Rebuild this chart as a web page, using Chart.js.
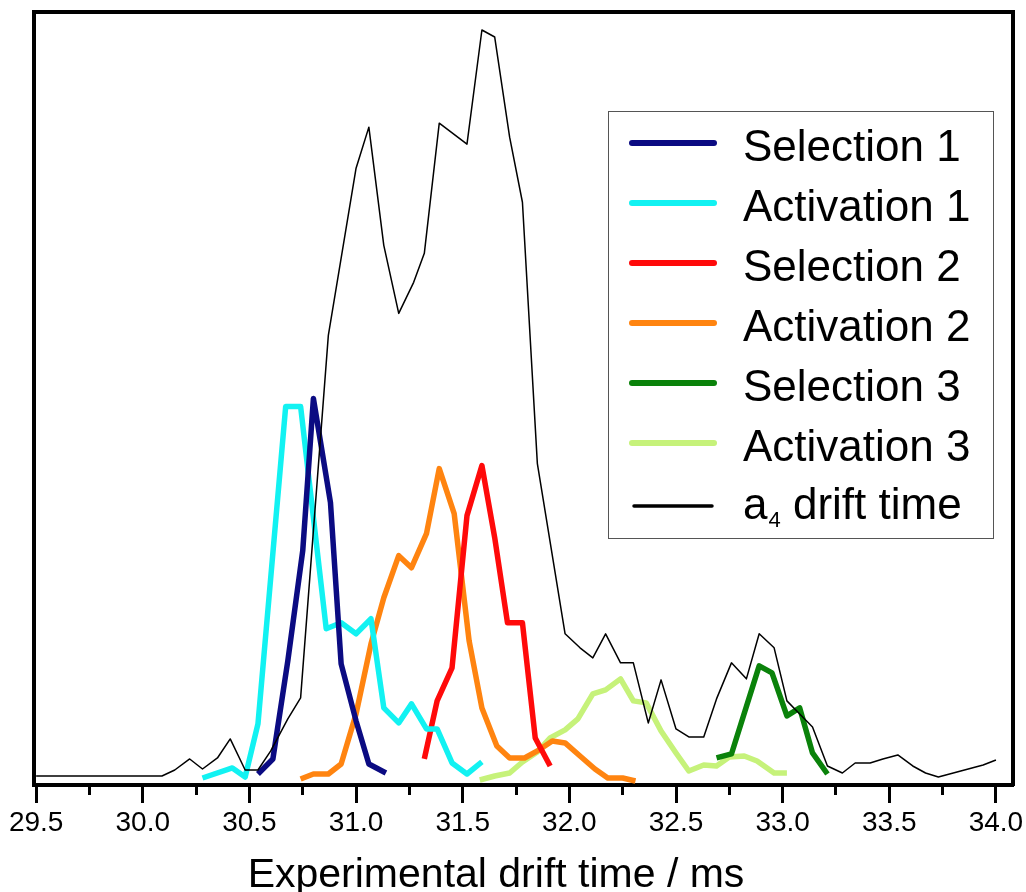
<!DOCTYPE html>
<html>
<head>
<meta charset="utf-8">
<title>Drift time</title>
<script src="https://cdn.jsdelivr.net/npm/chart.js@4.4.1/dist/chart.umd.min.js"></script>
<style>
  body { margin: 0; background: #fff; }
  canvas { display: block; }
</style>
</head>
<body>
<canvas id="driftChart" width="1026" height="892"></canvas>
<script>
// series names, in legend order
const seriesNames = ["Selection 1", "Activation 1", "Selection 2", "Activation 2", "Selection 3", "Activation 3", "a\u2084 drift time"];
const seriesColors = ["#0b0b82", "#12f2f2", "#ff0a0a", "#ff8410", "#0a820a", "#c6f27a", "#000000"];

// drift time (ms) and intensity (arb.)
const sel1Time = [30.54, 30.61, 30.68, 30.75, 30.80, 30.88, 30.93, 31.00, 31.06, 31.14];
const sel1Int  = [11, 26, 124, 234, 386, 282, 121, 64, 21, 12];

const act1Time = [30.28, 30.42, 30.48, 30.54, 30.67, 30.74, 30.86, 30.93, 31.00, 31.07, 31.13, 31.20, 31.26, 31.33, 31.38, 31.45, 31.52, 31.59];
const act1Int  = [7, 17, 8, 61, 378, 378, 156, 162, 151, 166, 77, 62, 81, 56, 56, 22, 11, 23];

const sel2Time = [31.32, 31.38, 31.45, 31.52, 31.59, 31.65, 31.71, 31.78, 31.84, 31.91];
const sel2Int  = [26, 84, 117, 269, 319, 247, 162, 162, 47, 19];

const act2Time = [30.74, 30.80, 30.87, 30.93, 31.00, 31.07, 31.13, 31.20, 31.26, 31.33, 31.39, 31.46, 31.53, 31.59, 31.66, 31.72, 31.79, 31.85, 31.92, 31.98, 32.05, 32.12, 32.18, 32.25, 32.31];
const act2Int  = [6, 11, 11, 21, 71, 141, 187, 229, 217, 251, 316, 271, 144, 77, 39, 27, 27, 34, 44, 42, 29, 16, 7, 7, 4];

const sel3Time = [32.69, 32.76, 32.89, 32.95, 33.02, 33.08, 33.14, 33.21];
const sel3Int  = [27, 31, 119, 112, 69, 77, 32, 11];

const act3Time = [31.58, 31.65, 31.72, 31.78, 31.85, 31.91, 31.98, 32.04, 32.11, 32.17, 32.24, 32.30, 32.36, 32.43, 32.50, 32.56, 32.63, 32.69, 32.75, 32.82, 32.88, 32.96, 33.02];
const act3Int  = [5, 9, 12, 23, 33, 47, 55, 66, 91, 95, 106, 84, 82, 54, 32, 14, 20, 19, 28, 29, 24, 12, 12];

const a4Time = [29.50, 30.09, 30.15, 30.22, 30.28, 30.35, 30.41, 30.48, 30.54, 30.60, 30.68, 30.74, 30.87, 31.00, 31.06, 31.13, 31.20, 31.27, 31.32, 31.39,
                31.52, 31.59, 31.65, 31.72, 31.78, 31.85, 31.98, 32.05, 32.11, 32.17, 32.24, 32.30, 32.37, 32.43, 32.50, 32.56, 32.63, 32.69, 32.76, 32.83,
                32.89, 32.96, 33.02, 33.08, 33.14, 33.21, 33.28, 33.34, 33.41, 33.47, 33.54, 33.61, 33.67, 33.73, 33.80, 33.87, 33.94, 34.00];
const a4Int  = [9, 9, 15, 26, 16, 27, 46, 15, 15, 34, 66, 87, 449, 616, 657, 539, 471, 502, 531, 661,
                640, 754, 747, 647, 582, 321, 151, 137, 127, 151, 122, 122, 62, 105, 56, 48, 48, 86, 122, 106,
                151, 137, 84, 71, 58, 19, 12, 22, 22, 26, 30, 19, 12, 8, 12, 16, 20, 25];

// x axis ticks, labelled every 0.5
const xTicks = [29.5, 29.75, 30.0, 30.25, 30.5, 30.75, 31.0, 31.25, 31.5, 31.75, 32.0, 32.25, 32.5, 32.75, 33.0, 33.25, 33.5, 33.75, 34.0];
const axisTitle = "Experimental drift time / ms";

const FONT = '"Liberation Sans", Arial, Helvetica, sans-serif';
Chart.defaults.font.family = FONT;
Chart.defaults.color = "#000";

function pts(t, v) {
  return t.map((x, i) => ({ x: x, y: v[i] }));
}
function isMajor(v) {
  return Math.abs(v * 2 - Math.round(v * 2)) < 1e-6;
}

const allTimes = [sel1Time, act1Time, sel2Time, act2Time, sel3Time, act3Time, a4Time];
const allInts = [sel1Int, act1Int, sel2Int, act2Int, sel3Int, act3Int, a4Int];

const datasets = seriesNames.map((name, i) => ({
  label: name,
  data: pts(allTimes[i], allInts[i]),
  borderColor: seriesColors[i],
  backgroundColor: seriesColors[i],
  borderWidth: i == 6 ? 1.5 : 5.5,
  pointRadius: 0,
  tension: 0,
  fill: false,
  borderJoinStyle: "round",
  order: i == 6 ? -1 : 0
}));

// legend box drawn inside the plot, top right
const boxLegend = {
  id: "boxLegend",
  afterDraw(chart) {
    const ctx = chart.ctx;
    ctx.save();
    ctx.fillStyle = "#fff";
    ctx.fillRect(608, 111, 385, 427);
    ctx.strokeStyle = "#555";
    ctx.lineWidth = 1;
    ctx.strokeRect(608.5, 111.5, 385, 427);
    chart.data.datasets.forEach((ds, i) => {
      const last = i == chart.data.datasets.length - 1;
      const ly = last ? 506 : 143 + 60 * i;
      const ty = last ? 519 : 161 + 60 * i;
      ctx.beginPath();
      ctx.strokeStyle = ds.borderColor;
      ctx.lineWidth = last ? 3.5 : 6;
      ctx.lineCap = "round";
      ctx.moveTo(last ? 634 : 632, ly);
      ctx.lineTo(last ? 712 : 714, ly);
      ctx.stroke();

      ctx.fillStyle = "#000";
      ctx.textBaseline = "alphabetic";
      ctx.textAlign = "left";
      let x = 743;
      // split off a subscript digit if there is one
      const m = ds.label.match(/^(.*?)([\u2080-\u2089])(.*)$/);
      ctx.font = "44px " + FONT;
      if (m) {
        ctx.fillText(m[1], x, ty);
        x += ctx.measureText(m[1]).width + 1;
        ctx.font = "22px " + FONT;
        const d = String(m[2].charCodeAt(0) - 0x2080);
        ctx.fillText(d, x, ty + 8);
        x += ctx.measureText(d).width;
        ctx.font = "44px " + FONT;
        ctx.fillText(m[3], x, ty);
      } else {
        ctx.fillText(ds.label, x, ty);
      }
    });
    ctx.restore();
  }
};

// x axis title, placed as in the original figure
const xTitle = {
  id: "xTitle",
  afterDraw(chart) {
    const ctx = chart.ctx;
    ctx.save();
    ctx.font = "41px " + FONT;
    ctx.fillStyle = "#000";
    ctx.textAlign = "center";
    ctx.textBaseline = "alphabetic";
    ctx.fillText(axisTitle, 496, 887);
    ctx.restore();
  }
};

const frameAxis = {
  display: true,
  ticks: { display: false },
  grid: { display: false, drawTicks: false },
  border: { display: true, width: 4, color: "#000" }
};

const ctx = document.getElementById("driftChart").getContext("2d");
const chart = new Chart(ctx, {
  type: "line",
  data: { datasets: datasets },
  options: {
    responsive: false,
    animation: false,
    devicePixelRatio: 1,
    layout: { padding: { left: 34, top: 12, right: 13, bottom: 53 } },
    plugins: {
      legend: { display: false },
      tooltip: { enabled: false }
    },
    scales: {
      x: {
        type: "linear",
        position: "bottom",
        min: 29.49,
        max: 34.08,
        afterBuildTicks: (axis) => {
          axis.ticks = xTicks.map(v => ({ value: v }));
        },
        afterFit: (axis) => {
          // keep the plot frame where it is in the figure
          axis.paddingLeft = 0;
          axis.paddingRight = 0;
          axis.height = 54;
        },
        ticks: {
          autoSkip: false,
          maxRotation: 0,
          padding: 3,
          color: "#000",
          font: { size: 28 },
          callback: (v) => isMajor(v) ? Number(v).toFixed(1) : ""
        },
        grid: {
          drawOnChartArea: false,
          drawTicks: true,
          tickLength: 18,
          tickWidth: 3,
          tickColor: "#000",
          tickBorderDash: (c) => (c.tick && isMajor(c.tick.value)) ? [] : [8, 200]
        },
        border: { display: true, width: 4, color: "#000" }
      },
      y: Object.assign({ position: "left", min: 0, max: 772 }, frameAxis),
      x2: Object.assign({ type: "linear", position: "top", min: 0, max: 1 }, frameAxis),
      y2: Object.assign({ type: "linear", position: "right", min: 0, max: 1 }, frameAxis)
    }
  },
  plugins: [boxLegend, xTitle]
});
</script>
</body>
</html>
